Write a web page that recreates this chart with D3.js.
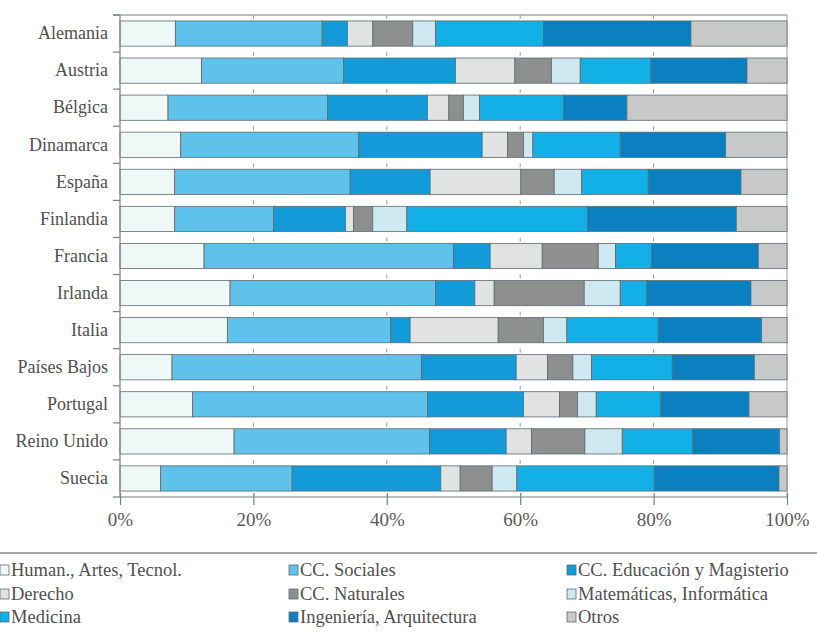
<!DOCTYPE html>
<html><head><meta charset="utf-8">
<script src="https://cdn.jsdelivr.net/npm/d3@7"></script>
<style>
html,body{margin:0;padding:0;background:#fff;}
svg{display:block;}
</style></head>
<body><svg id="c" width="817" height="636" font-family="Liberation Serif"></svg>
<script>
const countries = ["Alemania","Austria","Bélgica","Dinamarca","España","Finlandia","Francia","Irlanda","Italia","Países Bajos","Portugal","Reino Unido","Suecia"];
const seriesNames = ["Human., Artes, Tecnol.","CC. Sociales","CC. Educación y Magisterio","Derecho","CC. Naturales","Matemáticas, Informática","Medicina","Ingeniería, Arquitectura","Otros"];
const seriesColors = ["#eef8f7","#5ec2ea","#129ad9","#e0e3e2","#8c8f8e","#cfe9f3","#13b0e8","#0a80c0","#c6c9c8"];
// values per series, one entry per country (%)
const human       = [8.3,12.2,7.2,9.1,8.2,8.2,12.6,16.5,16.1,7.8,10.9,17.1,6.1];
const sociales    = [22.0,21.3,23.9,26.7,26.3,14.8,37.4,30.8,24.5,37.4,35.2,29.3,19.7];
const educacion   = [3.8,16.8,15.0,18.5,12.0,10.8,5.5,5.9,2.9,14.2,14.4,11.5,22.3];
const derecho     = [3.8,8.9,3.2,3.8,13.6,1.2,7.8,2.9,13.2,4.7,5.4,3.8,2.9];
const naturales   = [6.0,5.5,2.2,2.4,5.0,2.9,8.4,13.5,6.8,3.8,2.7,8.0,4.8];
const matematicas = [3.4,4.3,2.4,1.4,4.1,5.1,2.6,5.4,3.5,2.8,2.8,5.6,3.7];
const medicina    = [16.2,10.6,12.6,13.1,10.0,27.1,5.4,4.0,13.7,12.1,9.7,10.6,20.6];
const ingenieria  = [22.1,14.4,9.5,15.8,13.9,22.3,16.0,15.6,15.5,12.3,13.2,13.0,18.7];
const otros       = [14.4,6.0,24.0,9.2,6.9,7.6,4.3,5.4,3.8,4.9,5.7,1.1,1.2];
const tickValues = [0,20,40,60,80,100];
const tickLabels = ["0%","20%","40%","60%","80%","100%"];

const seriesValues = [human,sociales,educacion,derecho,naturales,matematicas,medicina,ingenieria,otros];
const table = countries.map((c,i)=>{const o={country:c}; seriesNames.forEach((s,j)=>o[s]=seriesValues[j][i]); return o;});
const stacked = d3.stack().keys(seriesNames)(table);

const svg = d3.select("#c");
const L=120, R=787, T=15, B=497;
const x = d3.scaleLinear().domain([0,100]).range([L,R]);
const y = d3.scaleBand().domain(countries).range([T,B]).paddingInner(0.32).paddingOuter(0.16);
const step = y.step();
const color = d3.scaleOrdinal().domain(seriesNames).range(seriesColors);
const lineCol = "#7a7f80";

// frame lines
svg.append("line").attr("x1",L-7).attr("x2",R).attr("y1",T).attr("y2",T).attr("stroke",lineCol).attr("stroke-width",1.2);
svg.append("line").attr("x1",R).attr("x2",R).attr("y1",T).attr("y2",B).attr("stroke","#9a9fa0").attr("stroke-width",1);

// gap marks (gridline remnants) & left band ticks
const bounds = d3.range(countries.length+1).map(k=>T+k*step);
svg.append("g").selectAll("line").data(bounds).join("line")
  .attr("x1",L-7).attr("x2",L).attr("y1",d=>d).attr("y2",d=>d).attr("stroke",lineCol).attr("stroke-width",1.2);
const marks=[];
bounds.slice(0,-1).forEach(b=>[20,40,60,80].forEach(v=>marks.push({b,v})));
svg.append("g").selectAll("line").data(marks).join("line")
  .attr("x1",d=>x(d.v)).attr("x2",d=>x(d.v)).attr("y1",d=>d.b).attr("y2",d=>d.b+4)
  .attr("stroke","#999").attr("stroke-width",1);

// bars
svg.append("g").selectAll("g").data(stacked).join("g")
  .attr("fill",d=>color(d.key))
  .selectAll("rect").data(d=>d).join("rect")
  .attr("x",d=>x(d[0])).attr("width",d=>x(d[1])-x(d[0]))
  .attr("y",d=>y(d.data.country)).attr("height",y.bandwidth())
  .attr("stroke","#5d6c72").attr("stroke-width",0.8);

// y axis
const yAxis = svg.append("g").attr("transform",`translate(${L},0)`)
  .call(d3.axisLeft(y).tickSize(0).tickPadding(12))
  .attr("font-family","Liberation Serif").attr("font-size",18);
yAxis.select(".domain").attr("stroke",lineCol).attr("stroke-width",1.2).attr("d",`M0,${T}V${B}`);
yAxis.selectAll("text").attr("fill","#505050").attr("font-family","Liberation Serif").attr("font-size",18);

// x axis
const xAxis = svg.append("g").attr("transform",`translate(0,${B})`)
  .call(d3.axisBottom(x).tickValues(tickValues).tickFormat((d,i)=>tickLabels[i]).tickSize(8).tickPadding(8))
  .attr("font-family","Liberation Serif").attr("font-size",19);
xAxis.select(".domain").attr("stroke",lineCol).attr("stroke-width",1.2).attr("d",`M${L},0H${R}`);
xAxis.selectAll(".tick line").attr("stroke",lineCol).attr("stroke-width",1.2).attr("y1",-4);
xAxis.selectAll("text").attr("fill","#5a5a5a").attr("font-family","Liberation Serif").attr("font-size",19);

// separator
svg.append("line").attr("x1",0).attr("x2",817).attr("y1",553).attr("y2",553).attr("stroke","#8a8a8a").attr("stroke-width",1.5);

// legend
const colX=[0,289,567], rowY=[570,594,617];
const leg = svg.append("g").selectAll("g").data(seriesNames).join("g")
  .attr("transform",(d,i)=>`translate(${colX[i%3]},${rowY[Math.floor(i/3)]})`);
leg.append("rect").attr("x",0).attr("y",-5).attr("width",9).attr("height",10)
  .attr("fill",d=>color(d)).attr("stroke","#5d6c72").attr("stroke-width",0.8);
leg.append("text").attr("x",11).attr("y",0).attr("dy","0.35em")
  .attr("font-size",18.5).attr("font-family","Liberation Serif").attr("fill","#505050").text(d=>d);
</script></body></html>
